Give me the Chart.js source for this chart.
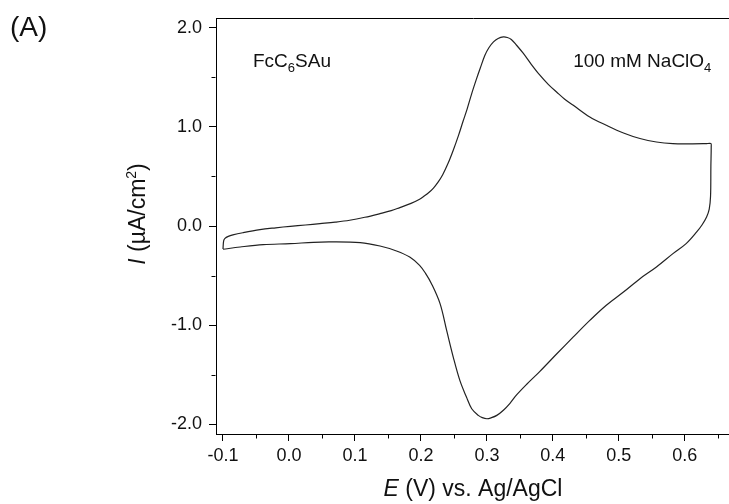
<!DOCTYPE html>
<html><head><meta charset="utf-8">
<script src="https://cdn.jsdelivr.net/npm/chart.js@4.4.1/dist/chart.umd.min.js"></script>
<style>
html,body{margin:0;padding:0;overflow:hidden;background:#fff;width:729px;height:504px}
#wrap{position:relative;width:760px;height:504px}
</style></head>
<body><div id="wrap"><canvas id="c" width="760" height="504"></canvas></div>
<script>
// Cyclic voltammogram: potential E (V vs Ag/AgCl) and current density I (uA/cm^2)
const potentialV = [
  -0.100,-0.099,-0.097,-0.092,-0.085,-0.070,-0.044,-0.020,0.002,0.025,0.047,0.070,0.092,0.115,0.138,0.155,0.168,0.185,0.198,0.205,0.212,0.219,0.226,0.233,0.241,0.249,0.257,0.264,0.270,0.277,0.284,0.290,0.297,0.303,0.310,0.317,0.325,0.331,0.337,0.345,0.355,0.367,0.380,0.393,0.406,0.418,0.431,0.456,0.481,0.507,0.532,0.557,0.582,0.610,0.632,0.6395,
  0.6400,0.6395,0.639,0.637,0.633,0.626,0.618,0.602,0.582,0.557,0.532,0.507,0.481,0.456,0.431,0.406,0.380,0.360,0.345,0.335,0.325,0.315,0.307,0.300,0.293,0.287,0.277,0.269,0.259,0.249,0.239,0.229,0.216,0.207,0.198,0.183,0.163,0.138,0.108,0.062,0.037,0.002,-0.039,-0.074,-0.100
];
const currentDensity = [
  -0.232,-0.150,-0.125,-0.105,-0.090,-0.068,-0.037,-0.018,-0.003,0.010,0.024,0.039,0.058,0.088,0.125,0.155,0.186,0.228,0.270,0.302,0.338,0.383,0.443,0.518,0.630,0.765,0.915,1.060,1.180,1.337,1.480,1.595,1.724,1.800,1.859,1.893,1.909,1.903,1.883,1.825,1.745,1.635,1.525,1.430,1.350,1.280,1.219,1.101,1.017,0.939,0.883,0.848,0.832,0.830,0.831,0.832,
  0.800,0.600,0.300,0.170,0.091,0.010,-0.060,-0.178,-0.279,-0.414,-0.532,-0.667,-0.800,-0.953,-1.120,-1.290,-1.470,-1.600,-1.705,-1.790,-1.860,-1.912,-1.935,-1.946,-1.935,-1.912,-1.845,-1.727,-1.559,-1.323,-1.054,-0.784,-0.582,-0.478,-0.397,-0.313,-0.252,-0.202,-0.168,-0.161,-0.165,-0.178,-0.188,-0.212,-0.235
];
const xTickValues = [-0.1,0.0,0.1,0.2,0.3,0.4,0.5,0.6];
const xTickLabels = ['-0.1','0.0','0.1','0.2','0.3','0.4','0.5','0.6'];
const xMinorTicks = [-0.05,0.05,0.15,0.25,0.35,0.45,0.55,0.65];
const yTickValues = [-2,-1,0,1,2];
const yTickLabels = ['-2.0','-1.0','0.0','1.0','2.0'];
const yMinorTicks = [-1.5,-0.5,0.5,1.5];

const FONT = '"Liberation Sans", Arial, sans-serif';
const INK = '#111';

function drawRich(ctx, parts, x, y, align, baseSize) {
  let total = 0;
  const widths = parts.map(p => {
    ctx.font = (p.italic ? 'italic ' : '') + (p.size || baseSize) + 'px ' + FONT;
    const w = ctx.measureText(p.t).width; total += w; return w;
  });
  let cx = align === 'center' ? x - total / 2 : x;
  parts.forEach((p, i) => {
    ctx.font = (p.italic ? 'italic ' : '') + (p.size || baseSize) + 'px ' + FONT;
    ctx.fillText(p.t, cx, y + (p.dy || 0));
    cx += widths[i];
  });
}

const decor = {
  id: 'decor',
  afterDraw(chart) {
    const ctx = chart.ctx, ca = chart.chartArea, xs = chart.scales.x, ys = chart.scales.y;
    ctx.save();
    ctx.strokeStyle = '#000'; ctx.lineWidth = 1;
    ctx.beginPath();
    const bot = Math.round(ca.bottom) + 0.5, lft = Math.round(ca.left) - 0.5;
    xMinorTicks.forEach(v => { const p = Math.round(xs.getPixelForValue(v)) + 0.5; ctx.moveTo(p, bot); ctx.lineTo(p, bot + 4); });
    yMinorTicks.forEach(v => { const p = Math.round(ys.getPixelForValue(v)) + 0.5; ctx.moveTo(lft - 4, p); ctx.lineTo(lft, p); });
    const top = Math.round(ca.top) + 0.5;
    ctx.moveTo(ca.left, top); ctx.lineTo(ca.right, top);
    ctx.stroke();

    ctx.fillStyle = INK; ctx.textBaseline = 'alphabetic'; ctx.textAlign = 'left';
    drawRich(ctx, [{t:'E', italic:true}, {t:' (V) vs. Ag/AgCl'}], 473, 496, 'center', 23);
    ctx.save();
    ctx.translate(145, 214);
    ctx.rotate(-Math.PI / 2);
    drawRich(ctx, [{t:'I', italic:true}, {t:' (µA/cm'}, {t:'2', size:14, dy:-9}, {t:')'}], 0, 0, 'center', 23);
    ctx.restore();
    drawRich(ctx, [{t:'FcC'}, {t:'6', size:13, dy:5}, {t:'SAu'}], xs.getPixelForValue(-0.0545), ys.getPixelForValue(1.606), 'left', 19);
    drawRich(ctx, [{t:'100 mM NaClO'}, {t:'4', size:13, dy:5}], xs.getPixelForValue(0.4308), ys.getPixelForValue(1.606), 'left', 19);
    drawRich(ctx, [{t:'(A)'}], 10, 36, 'left', 28);
    ctx.restore();
  }
};

new Chart(document.getElementById('c'), {
  type: 'scatter',
  data: {
    datasets: [{
      data: potentialV.map((x, i) => ({x: x, y: currentDensity[i]})),
      showLine: true, fill: false, borderColor: '#222', borderWidth: 1.2,
      pointRadius: 0, tension: 0.35
    }]
  },
  options: {
    responsive: false, animation: false, devicePixelRatio: 1,
    layout: {padding: {top: 18, right: 29, left: 0, bottom: 0}},
    plugins: {legend: {display: false}, tooltip: {enabled: false}},
    scales: {
      x: {
        type: 'linear', min: -0.1106, max: 0.67,
        afterBuildTicks: s => { s.ticks = xTickValues.map(v => ({value: v})); },
        afterFit: s => { s.height = 70; },
        ticks: {callback: (v, i) => xTickLabels[i], font: {family: FONT, size: 18}, color: INK, padding: 4, maxRotation: 0, autoSkip: false},
        grid: {drawOnChartArea: false, drawTicks: true, tickLength: 7, color: '#000', tickWidth: 1},
        border: {display: true, color: '#000', width: 1}
      },
      y: {
        type: 'linear', min: -2.1, max: 2.1,
        afterBuildTicks: s => { s.ticks = yTickValues.map(v => ({value: v})); },
        afterFit: s => { s.width = 216; },
        ticks: {callback: (v, i) => yTickLabels[i], font: {family: FONT, size: 18}, color: INK, padding: 7, autoSkip: false},
        grid: {drawOnChartArea: false, drawTicks: true, tickLength: 7, color: '#000', tickWidth: 1},
        border: {display: true, color: '#000', width: 1}
      }
    }
  },
  plugins: [decor]
});
</script>
</body></html>
